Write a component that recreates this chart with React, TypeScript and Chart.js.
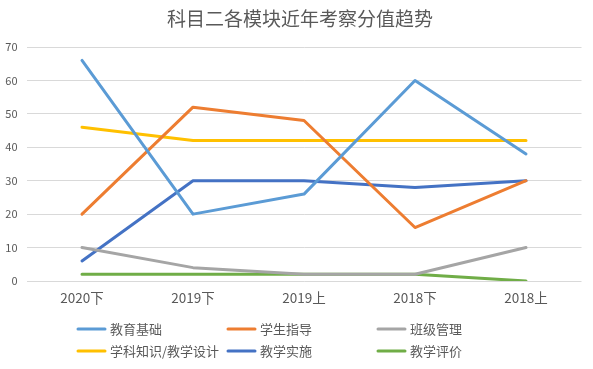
import React, { useEffect, useRef } from "react";
import { Chart, registerables } from "chart.js";

Chart.register(...registerables);

const categories = ["2020下", "2019下", "2019上", "2018下", "2018上"];
const seriesNames = ["教育基础", "学生指导", "班级管理", "学科知识/教学设计", "教学实施", "教学评价"];
const jiaoyuJichu = [66, 20, 26, 60, 38];
const xueshengZhidao = [20, 52, 48, 16, 30];
const banjiGuanli = [10, 4, 2, 2, 10];
const xuekeZhishi = [46, 42, 42, 42, 42];
const jiaoxueShishi = [6, 30, 30, 28, 30];
const jiaoxuePingjia = [2, 2, 2, 2, 0];
const yTicks = [0, 10, 20, 30, 40, 50, 60, 70];
const titleText = "科目二各模块近年考察分值趋势";

const colors = ["#5B9BD5", "#ED7D31", "#A5A5A5", "#FFC000", "#4472C4", "#70AD47"];
const FONT = "'Noto Sans CJK SC', 'Noto Sans', sans-serif";
const TEXT = "#595959";

const customDraw = {
  id: "customDraw",
  afterDraw(chart: any) {
    const ctx = chart.ctx;
    ctx.save();
    // title
    ctx.fillStyle = TEXT;
    ctx.font = `19px ${FONT}`;
    ctx.textAlign = "center";
    ctx.textBaseline = "middle";
    ctx.fillText(titleText, 300, 19);
    // legend
    const colW = 150;
    const startX = 77;
    const rows = [329, 351];
    ctx.font = `13px ${FONT}`;
    ctx.textAlign = "left";
    chart.data.datasets.forEach((ds: any, i: number) => {
      const col = i % 3;
      const row = Math.floor(i / 3);
      const x = startX + col * colW;
      const y = rows[row];
      ctx.strokeStyle = ds.borderColor;
      ctx.lineWidth = 3;
      ctx.lineCap = "round";
      ctx.beginPath();
      ctx.moveTo(x + 1, y);
      ctx.lineTo(x + 28, y);
      ctx.stroke();
      ctx.fillStyle = TEXT;
      ctx.fillText(ds.label, x + 33, y);
    });
    ctx.restore();
  },
};

export default function App() {
  const ref = useRef<HTMLCanvasElement | null>(null);
  useEffect(() => {
    document.body.style.margin = "0";
    const values = [jiaoyuJichu, xueshengZhidao, banjiGuanli, xuekeZhishi, jiaoxueShishi, jiaoxuePingjia];
    const chart = new Chart(ref.current as HTMLCanvasElement, {
      type: "line",
      data: {
        labels: categories,
        datasets: values.map((v, i) => ({
          label: seriesNames[i],
          data: v,
          borderColor: colors[i],
          backgroundColor: colors[i],
          borderWidth: 3,
          pointRadius: 0,
          tension: 0,
          fill: false,
          borderJoinStyle: "round" as const,
          borderCapStyle: "round" as const,
        })),
      },
      options: {
        responsive: false,
        animation: false,
        layout: { padding: { left: 0, right: 11.5, top: 47, bottom: 58 } },
        plugins: {
          legend: { display: false },
          title: { display: false },
          tooltip: { enabled: false },
        },
        scales: {
          x: {
            offset: true,
            grid: { display: false, drawTicks: false },
            border: { display: false },
            ticks: { color: TEXT, font: { family: FONT, size: 13.5 }, padding: 9 },
            afterFit: (s: any) => {
              s.height = 30;
            },
          },
          y: {
            min: 0,
            max: 70,
            afterBuildTicks: (s: any) => {
              s.ticks = yTicks.map((v) => ({ value: v }));
            },
            grid: { color: "#D9D9D9", lineWidth: 1, drawTicks: false },
            border: { display: false },
            ticks: { color: TEXT, font: { family: FONT, size: 11 }, padding: 9 },
            afterFit: (s: any) => {
              s.width = 26.5;
            },
          },
        },
      },
      plugins: [customDraw],
    });
    return () => chart.destroy();
  }, []);
  return <canvas ref={ref} width={593} height={369} style={{ display: "block" }} />;
}
